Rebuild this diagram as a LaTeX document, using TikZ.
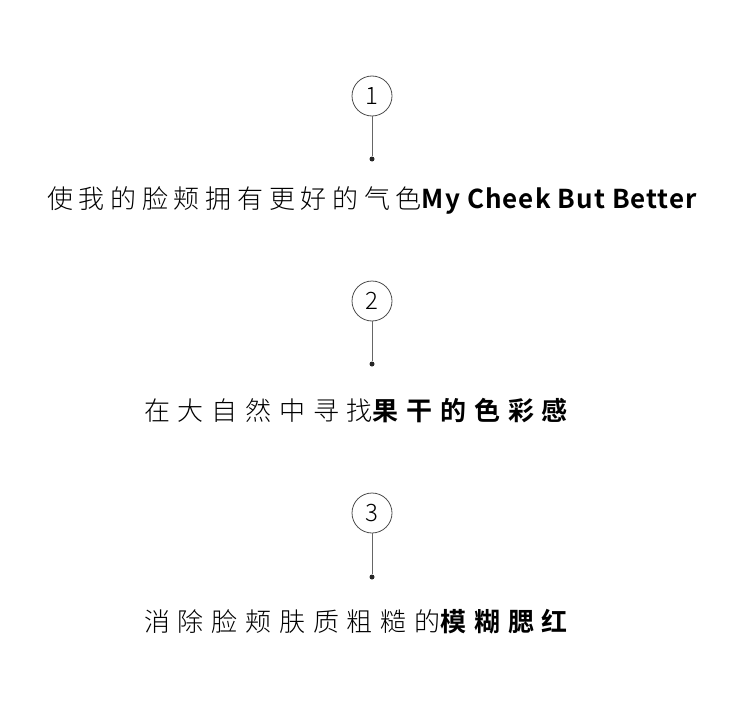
\documentclass[tikz,border=0pt]{standalone}
\usepackage{fontspec}
\newfontfamily\cjkA[LetterSpace=22,UprightFont=* Light,BoldFont=* Bold]{Noto Sans CJK SC}
\newfontfamily\cjkB[LetterSpace=30,UprightFont=* Light,BoldFont=* Bold]{Noto Sans CJK SC}
\newfontfamily\cjkE[LetterSpace=4,BoldFont=* Bold]{Noto Sans CJK SC}
\tikzset{
  num/.style={circle,draw=black!70,line width=0.8pt,minimum size=40pt,inner sep=0pt,font=\cjkA\fontsize{24}{24}\selectfont},
  stem/.style={draw=black!60,line width=0.8pt},
  dot/.style={circle,fill=black!85,minimum size=5pt,inner sep=0pt},
  txt/.style={inner sep=0pt,anchor=center}
}
\begin{document}
\begin{tikzpicture}[x=1pt,y=-1pt]
\useasboundingbox (0,0) rectangle (750,717);
\node[num] (c1) at (372,96) {1};
\node[dot] (d1) at (372,159) {};
\draw[stem] (c1) -- (d1);
\node[txt] (t1) at (372,200) {\cjkA\fontsize{26}{26}\selectfont 使我的脸颊拥有更好的气色\cjkE\bfseries My Cheek But Better};
\node[num] (c2) at (372,301) {2};
\node[dot] (d2) at (372,364) {};
\draw[stem] (c2) -- (d2);
\node[txt] (t2) at (356,411) {\cjkB\fontsize{26}{26}\selectfont 在大自然中寻找\bfseries 果干的色彩感};
\node[num] (c3) at (372,513) {3};
\node[dot] (d3) at (372,577) {};
\draw[stem] (c3) -- (d3);
\node[txt] (t3) at (356,622) {\cjkB\fontsize{26}{26}\selectfont 消除脸颊肤质粗糙的\bfseries 模糊腮红};
\end{tikzpicture}
\end{document}
